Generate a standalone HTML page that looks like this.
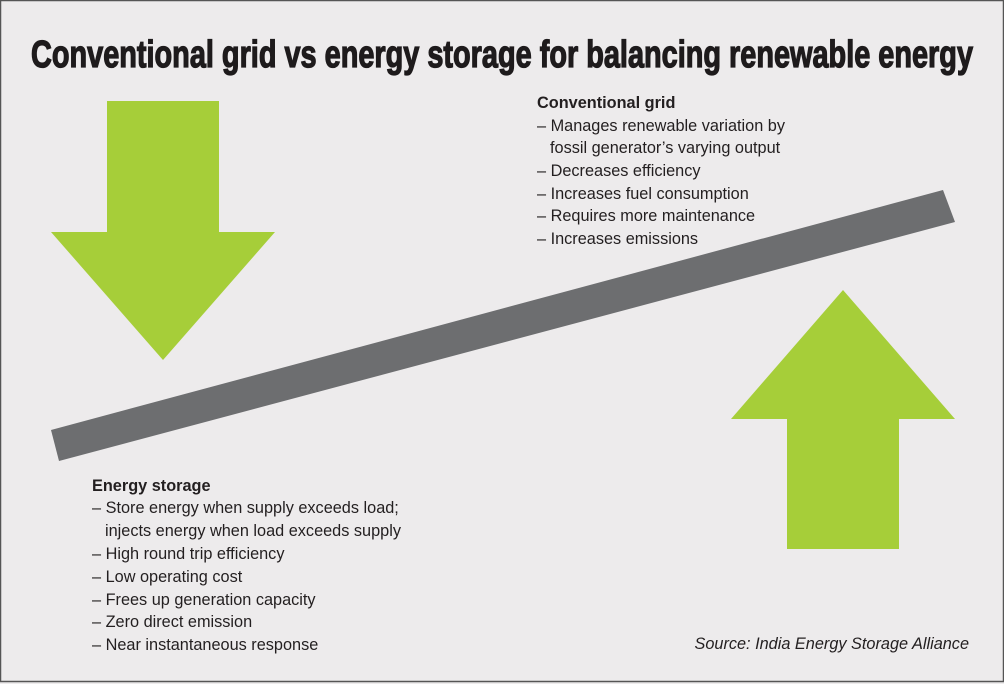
<!DOCTYPE html>
<html><head><meta charset="utf-8"><style>
html,body{margin:0;padding:0;background:#edebec}
svg{display:block}
</style></head><body>
<svg width="1004" height="684" viewBox="0 0 1004 684" xmlns="http://www.w3.org/2000/svg">
<rect x="0.5" y="0.5" width="1003" height="681" fill="#edebec" stroke="#555" stroke-width="1.5"/>
<text x="502" y="67" text-anchor="middle" font-family="Liberation Sans Narrow, Liberation Sans, sans-serif" font-weight="bold" font-size="38" fill="#1e1b1c" stroke="#1e1b1c" stroke-width="1.3" textLength="942" lengthAdjust="spacingAndGlyphs">Conventional grid vs energy storage for balancing renewable energy</text>
<polygon points="107,101 219,101 219,232 275,232 163,360 51,232 107,232" fill="#a6ce39"/>
<polygon points="843,290 955,419 899,419 899,549 787,549 787,419 731,419" fill="#a6ce39"/>
<polygon points="51,430 943,190 955,222 59,461" fill="#6d6e70"/>
<g font-family="Liberation Sans, sans-serif" font-size="16.3" fill="#231f20">
<text x="537" y="108" font-weight="bold">Conventional grid</text>
<text x="537" y="131">– Manages renewable variation by</text>
<text x="550" y="153">fossil generator’s varying output</text>
<text x="537" y="176">– Decreases efficiency</text>
<text x="537" y="199">– Increases fuel consumption</text>
<text x="537" y="221">– Requires more maintenance</text>
<text x="537" y="244">– Increases emissions</text>
<text x="92" y="491" font-weight="bold">Energy storage</text>
<text x="92" y="513">– Store energy when supply exceeds load;</text>
<text x="105" y="536">injects energy when load exceeds supply</text>
<text x="92" y="559">– High round trip efficiency</text>
<text x="92" y="582">– Low operating cost</text>
<text x="92" y="605">– Frees up generation capacity</text>
<text x="92" y="627">– Zero direct emission</text>
<text x="92" y="650">– Near instantaneous response</text>
<text x="969" y="649" text-anchor="end" font-style="italic">Source: India Energy Storage Alliance</text>
</g>
</svg>
</body></html>
